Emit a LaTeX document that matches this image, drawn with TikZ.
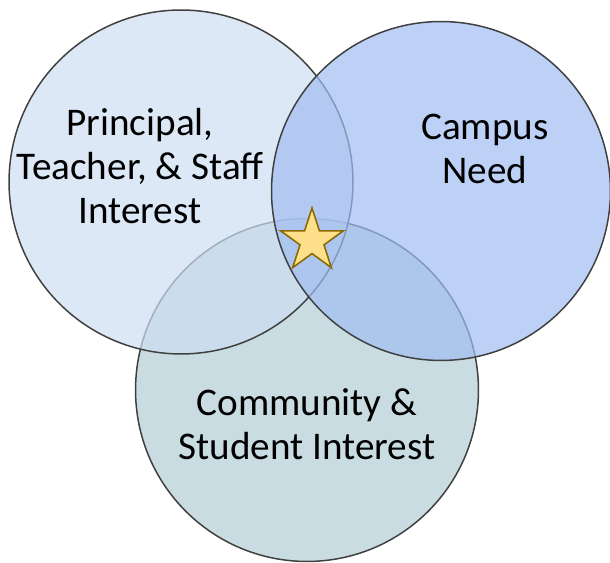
\documentclass[tikz,border=0pt]{standalone}
\usepackage{fontspec}
\setmainfont{Carlito}
\usetikzlibrary{shapes.geometric}

\definecolor{ringline}{HTML}{404040}
\definecolor{staffblue}{RGB}{205,222,241}
\definecolor{campusblue}{RGB}{161,189,242}
\definecolor{communityteal}{HTML}{C9DCE1}
\definecolor{starfill}{HTML}{FFE08A}
\definecolor{starline}{HTML}{8C6A00}

\begin{document}
\begin{tikzpicture}[x=0.02cm,y=-0.02cm,
                    ring/.style={circle,draw=ringline,line width=0.85pt,inner sep=0pt},
                    main text/.style={align=center,text=black,font=\fontsize{22.3}{25}\selectfont}]

  \useasboundingbox (0,0) rectangle (610,563);

  % circles, back to front
  \node[ring,fill=communityteal,minimum size=6.86cm] (community) at (307,390) {};
  \node[ring,fill=staffblue,fill opacity=0.7,minimum size=6.88cm] (staff) at (181,182) {};
  \node[ring,fill=campusblue,fill opacity=0.7,minimum size=6.78cm] (campus) at (441,191) {};

  % labels
  \node[main text] (stafftext) at (140,166) {Principal,\\Teacher, \& Staff\\Interest};
  \node[main text] (campustext) at (485,149) {Campus\\Need};
  \node[main text] (communitytext) at (307,424) {Community \&\\Student Interest};

  % sweet spot
  \node[star,star points=5,star point ratio=2.618,draw=starline,fill=starfill,
        line width=0.9pt,inner sep=0pt,minimum size=1.32cm] (spot) at (312,241) {};
\end{tikzpicture}
\end{document}
